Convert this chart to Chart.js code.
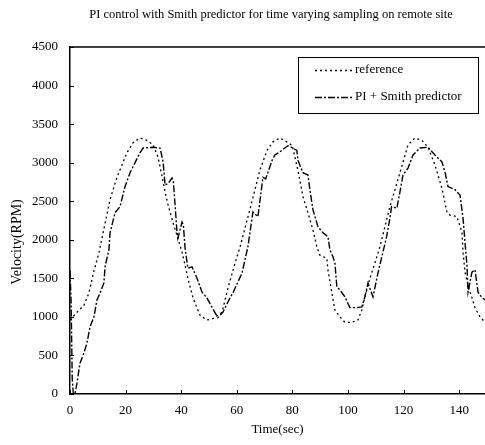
<!DOCTYPE html>
<html>
<head>
<meta charset="utf-8">
<script src="https://cdn.jsdelivr.net/npm/chart.js@4.4.1/dist/chart.umd.min.js"></script>
<style>
  html, body { margin: 0; padding: 0; background: #fff; }
  #wrap { width: 485px; height: 445px; }
</style>
</head>
<body>
<div id="wrap"><canvas id="chart" width="485" height="445"></canvas></div>
<script>
// values
const chartTitle = 'PI control with Smith predictor for time varying sampling on remote site';
const seriesLabels = ['reference', 'PI + Smith predictor'];
const xTickValues = [0, 20, 40, 60, 80, 100, 120, 140];
const yTickValues = [0, 500, 1000, 1500, 2000, 2500, 3000, 3500, 4000, 4500];

const refTime = [0, 2.5, 5, 6.8, 8.5, 10.4, 11.9, 14.4, 16.9, 20.5, 22.7, 25.2, 27.7, 29.9, 31.7, 33, 34.2, 35.3, 37, 38.8,
  40.3, 41.4, 42.4, 44.3, 46.8, 49.2, 51, 52, 54.7, 56.8, 59, 61.2, 64.7, 68.3, 70.9, 73, 75.5, 78, 80, 82,
  83.8, 85.6, 87.4, 88.8, 89.9, 92.4, 92.8, 94.2, 95.3, 97.1, 98.9, 101.4, 103.6, 105, 106.1, 107.9, 109.7, 111.5, 115.1, 118.7,
  121.6, 124.1, 126.6, 128.8, 131.3, 133.8, 135.6, 136.7, 139.2, 141, 141.4, 142.1, 143.2, 144.6, 145.7, 147.5, 149.3];
const refVel = [960, 1060, 1150, 1310, 1580, 1830, 2090, 2520, 2810, 3130, 3260, 3320, 3290, 3230, 3070, 2840, 2620, 2450, 2230, 2020,
  1840, 1670, 1500, 1240, 1020, 960, 970, 990, 1060, 1370, 1650, 1910, 2390, 2900, 3160, 3270, 3320, 3270, 3220, 2900,
  2560, 2350, 2130, 1910, 1800, 1760, 1610, 1310, 1090, 1000, 930, 930, 960, 1090, 1260, 1500, 1700, 1910, 2430, 2870,
  3230, 3320, 3290, 3200, 2970, 2670, 2360, 2320, 2300, 2100, 1840, 1580, 1410, 1250, 1120, 1000, 930];

const piTime = [0, 0.4, 0.8, 1.2, 1.8, 2.5, 3.6, 5, 6.1, 7.2, 8.6, 9.7, 10.8, 12.2, 12.6, 14, 14.4, 16.2, 18, 19.8,
  21.6, 23.4, 25.2, 26.3, 29.9, 32.4, 33.5, 34.2, 35.3, 36.7, 37.2, 37.8, 38.5, 38.8, 40.3, 40.8, 41.4, 42.4, 43.9, 45.7,
  47.5, 49.2, 51, 53.2, 55, 57.6, 58.6, 61.9, 64, 65.8, 67.6, 69, 69.4, 70.4, 72.7, 73.7, 75.5, 78.4, 80.2, 81.6,
  82, 83.8, 85.6, 86.3, 87.4, 89.2, 91, 92.8, 93.5, 94.6, 95.3, 96, 97.1, 98.9, 100.7, 103.2, 105, 106.1, 107.2, 109,
  110.8, 113.9, 115, 115.7, 117.6, 118.7, 119.8, 121.6, 123.4, 125.9, 128.8, 131.3, 133.8, 134.9, 136, 138.5, 140.3, 141.4, 142.1, 142.8,
  143.2, 144.6, 145.7, 146.8, 148.2, 149.3];
const piVel = [1600, 1200, 200, 0, 0, 140, 400, 530, 660, 870, 1000, 1220, 1310, 1440, 1650, 1870, 2090, 2350, 2430, 2690,
  2870, 3000, 3130, 3190, 3200, 3190, 3010, 2710, 2730, 2800, 2750, 2450, 2100, 2020, 2230, 2190, 1890, 1630, 1650, 1500,
  1320, 1250, 1130, 990, 1060, 1250, 1310, 1570, 1910, 2360, 2300, 2690, 2810, 2790, 3030, 3100, 3140, 3220, 3190, 3160,
  3030, 2870, 2840, 2650, 2390, 2170, 2090, 2040, 1870, 1780, 1700, 1390, 1350, 1260, 1120, 1120, 1130, 1260, 1440, 1260,
  1570, 2040, 2260, 2430, 2410, 2620, 2840, 2930, 3100, 3190, 3200, 3100, 3010, 2880, 2690, 2650, 2580, 2280, 1970, 1670,
  1320, 1580, 1610, 1320, 1250, 1220];

const refDash = [2, 3];
const piDash = [7, 2, 2, 2];
const serif = "'Liberation Serif', 'DejaVu Serif', serif";

const pts = (xs, ys) => xs.map((x, i) => ({ x: x, y: ys[i] }));

// frame, inward ticks, title, y label and legend box
const decor = {
  id: 'decor',
  afterDraw(chart) {
    const ctx = chart.ctx;
    const a = chart.chartArea;
    const xs = chart.scales.x, ys = chart.scales.y;
    ctx.save();
    ctx.strokeStyle = '#000';
    ctx.lineWidth = 1.5;
    ctx.beginPath();
    ctx.moveTo(a.left, a.top);
    ctx.lineTo(a.right, a.top);
    ctx.stroke();

    ctx.lineWidth = 1;
    ctx.beginPath();
    xTickValues.forEach(v => {
      const px = Math.round(xs.getPixelForValue(v)) + 0.5;
      ctx.moveTo(px, a.bottom);
      ctx.lineTo(px, a.bottom - 4);
    });
    yTickValues.forEach(v => {
      const py = Math.round(ys.getPixelForValue(v)) + 0.5;
      ctx.moveTo(a.left, py);
      ctx.lineTo(a.left + 4, py);
    });
    ctx.stroke();

    ctx.fillStyle = '#000';
    ctx.font = '12.5px ' + serif;
    ctx.textAlign = 'center';
    ctx.textBaseline = 'middle';
    ctx.fillText(chartTitle, 271, 15);

    ctx.save();
    ctx.translate(17, 242);
    ctx.rotate(-Math.PI / 2);
    ctx.font = '14px ' + serif;
    ctx.fillText('Velocity(RPM)', 0, 0);
    ctx.restore();

    // legend
    ctx.lineWidth = 1;
    ctx.strokeRect(298.5, 57.5, 180, 56);
    const rows = [[70, refDash, 1.3], [97, piDash, 1.3]];
    ctx.font = '13px ' + serif;
    ctx.textAlign = 'left';
    rows.forEach((r, i) => {
      ctx.setLineDash(r[1]);
      ctx.lineWidth = r[2];
      ctx.beginPath();
      ctx.moveTo(315, r[0] + 0.5);
      ctx.lineTo(352, r[0] + 0.5);
      ctx.stroke();
      ctx.setLineDash([]);
      ctx.fillText(seriesLabels[i], 355, r[0]);
    });
    ctx.restore();
  }
};

new Chart(document.getElementById('chart'), {
  type: 'line',
  data: {
    datasets: [
      { label: seriesLabels[0], data: pts(refTime, refVel), borderColor: '#000', borderWidth: 1.3,
        borderDash: refDash, pointRadius: 0, tension: 0, fill: false },
      { label: seriesLabels[1], data: pts(piTime, piVel), borderColor: '#000', borderWidth: 1.4,
        borderDash: piDash, pointRadius: 0, tension: 0, fill: false }
    ]
  },
  options: {
    responsive: false,
    animation: false,
    devicePixelRatio: 1,
    layout: { padding: { top: 47, left: 0, right: 0, bottom: 0 } },
    plugins: { legend: { display: false }, title: { display: false }, tooltip: { enabled: false } },
    scales: {
      x: {
        type: 'linear', min: 0, max: 149.3,
        afterBuildTicks: s => { s.ticks = xTickValues.map(v => ({ value: v })); },
        afterFit: s => { s.height = 51; },
        grid: { display: true, drawOnChartArea: false, drawTicks: false },
        border: { display: true, color: '#000', width: 1.5 },
        ticks: { color: '#000', padding: 9, maxRotation: 0, autoSkip: false, font: { family: serif, size: 13 },
          callback: v => String(v) },
        title: { display: true, text: 'Time(sec)', color: '#000', font: { family: serif, size: 13 }, padding: { top: 0, bottom: 8 } }
      },
      y: {
        type: 'linear', min: 0, max: 4500,
        afterBuildTicks: s => { s.ticks = yTickValues.map(v => ({ value: v })); },
        afterFit: s => { s.width = 70; },
        grid: { display: true, drawOnChartArea: false, drawTicks: false },
        border: { display: true, color: '#000', width: 1.5 },
        ticks: { color: '#000', padding: 12, autoSkip: false, font: { family: serif, size: 13 },
          callback: v => String(v) }
      }
    }
  },
  plugins: [decor]
});
</script>
</body>
</html>
